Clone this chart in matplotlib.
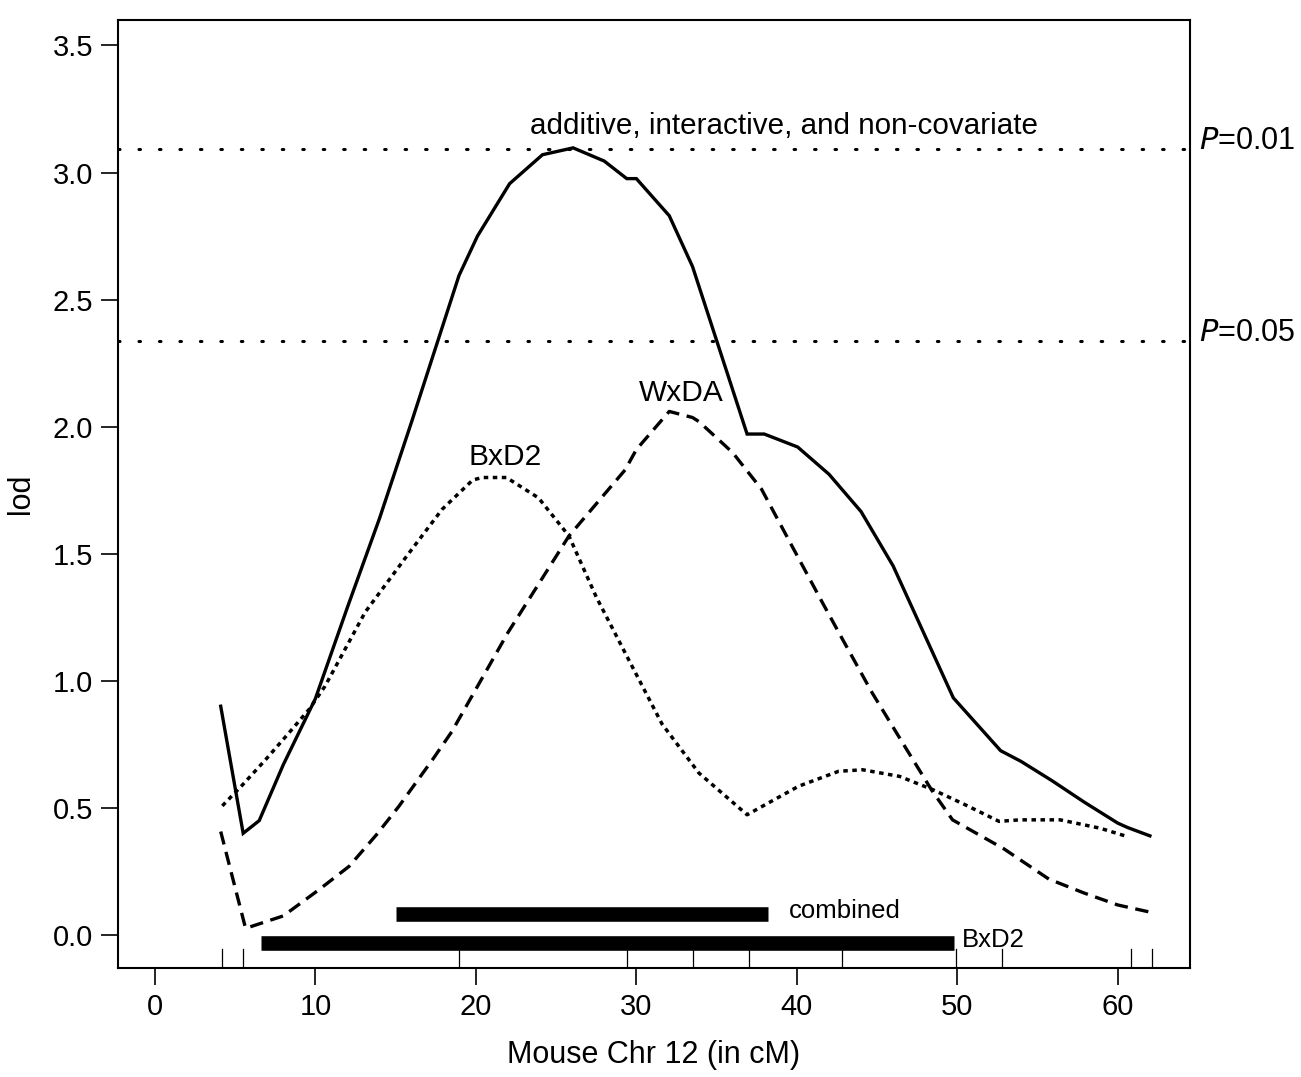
import numpy as np
import matplotlib.pyplot as plt

plt.rcParams['font.family'] = ['Liberation Sans', 'DejaVu Sans']

# ── Data ───────────────────────────────────────────────────────────────────
comb_x = [4.1, 5.5, 6.5, 8.0, 10.0, 12.0, 14.0, 16.0, 18.95, 20.1, 22.1, 24.15,
          26.06, 28.0, 29.4, 30.0, 32.05, 33.5, 36.9, 37.97, 40.05, 42.0, 44.0,
          46.0, 49.75, 52.7, 53.97, 55.9, 57.9, 60.0, 60.6, 62.0]
comb_y = [0.90, 0.40, 0.45, 0.67, 0.93, 1.29, 1.64, 2.02, 2.595, 2.75, 2.956, 3.07,
          3.097, 3.045, 2.976, 2.976, 2.83, 2.63, 1.971, 1.971, 1.92, 1.813, 1.666,
          1.452, 0.933, 0.725, 0.683, 0.607, 0.523, 0.44, 0.423, 0.39]

wxda_x = [4.1, 5.65, 8.0, 10.2, 12.1, 13.8, 15.2, 17.3, 18.5, 22.0, 25.8,
          29.3, 30.0, 32.05, 33.5, 33.9, 36.0, 37.8, 39.7, 41.6, 42.85, 44.7, 46.6,
          48.4, 49.7, 52.9, 55.7, 57.9, 60.0, 62.0]
wxda_y = [0.407, 0.026, 0.075, 0.177, 0.27, 0.394, 0.506, 0.69, 0.80, 1.19, 1.57,
          1.83, 1.91, 2.06, 2.036, 2.02, 1.898, 1.754, 1.53, 1.307, 1.163, 0.952, 0.755,
          0.57, 0.453, 0.339, 0.22, 0.165, 0.118, 0.09]

bxd2_x = [4.2, 5.45, 6.9, 8.35, 9.6, 10.6, 13.1, 15.8, 17.9, 19.8, 20.4, 21.9,
          23.9, 25.8, 27.5, 29.3, 31.6, 33.9, 36.9, 40.1, 42.6, 44.1,
          46.4, 48.5, 50.5, 52.6, 53.9, 56.4, 58.9, 60.6]
bxd2_y = [0.508, 0.59, 0.69, 0.795, 0.887, 0.979, 1.27, 1.50, 1.675, 1.79, 1.80, 1.80,
          1.72, 1.57, 1.33, 1.11, 0.83, 0.637, 0.473, 0.585, 0.644, 0.65,
          0.624, 0.571, 0.512, 0.447, 0.453, 0.453, 0.42, 0.387]

markers_cm = [4.16, 5.5, 18.95, 29.4, 33.5, 37.0, 42.8, 49.9, 52.8, 60.8, 62.1]

thresholds = [3.094, 2.337]
threshold_labels = ["0.01", "0.05"]

ci_names = ["combined", "BxD2"]
ci_start = [15.0, 6.6]
ci_end = [38.2, 49.8]
ci_level = [0.083, -0.03]

# ── Plot ───────────────────────────────────────────────────────────────────
fig = plt.figure(figsize=(13.01, 10.77), dpi=100)
ax = fig.add_axes([0.0907, 0.1012, 0.824, 0.8802])

ax.plot(comb_x, comb_y, color="black", lw=2.4, solid_joinstyle="miter")
ax.plot(wxda_x, wxda_y, color="black", lw=2.4, linestyle=(0, (4.0, 2.3)))
ax.plot(bxd2_x, bxd2_y, color="black", lw=2.5, linestyle=(0, (1.3, 1.3)))

for t, lab in zip(thresholds, threshold_labels):
    ax.axhline(t, color="black", lw=2.2, linestyle=(0, (0.5, 6.2)),
               dash_capstyle="round")
    ax.text(1.008, t, f"$\\it{{P}}$={lab}", transform=ax.get_yaxis_transform(),
            fontsize=22, va="baseline", ha="left", clip_on=False)

for s, e, lvl, name in zip(ci_start, ci_end, ci_level, ci_names):
    ax.plot([s, e], [lvl, lvl], color="black", lw=10.5, solid_capstyle="butt")
    ax.text(e + 1.3 if name == "combined" else e + 0.5, lvl + 0.01, name,
            fontsize=18.5, va="center", ha="left")

# rug of marker positions
for m in markers_cm:
    ax.plot([m, m], [0, 0.02], transform=ax.get_xaxis_transform(),
            color="black", lw=0.9)

ax.text(21.8, 1.85, "BxD2", fontsize=21.5, ha="center", va="baseline")
ax.text(32.8, 2.10, "WxDA", fontsize=21.5, ha="center", va="baseline")
ax.text(39.2, 3.15, "additive, interactive, and non-covariate", fontsize=21.3,
        ha="center", va="baseline")

ax.set_xlim(-2.3, 64.5)
ax.set_ylim(-0.13, 3.6)
ax.set_xticks(range(0, 61, 10))
ax.set_yticks(np.arange(0, 3.51, 0.5))
ax.set_yticklabels([f"{v:.1f}" for v in np.arange(0, 3.51, 0.5)])
ax.tick_params(direction="out", length=12, width=1.2, labelsize=21, pad=6)
for sp in ax.spines.values():
    sp.set_linewidth(1.5)

ax.set_xlabel("Mouse Chr 12 (in cM)", fontsize=22, labelpad=14)
ax.set_ylabel("lod", fontsize=22, labelpad=12)

fig.savefig("out.png", dpi=100)
